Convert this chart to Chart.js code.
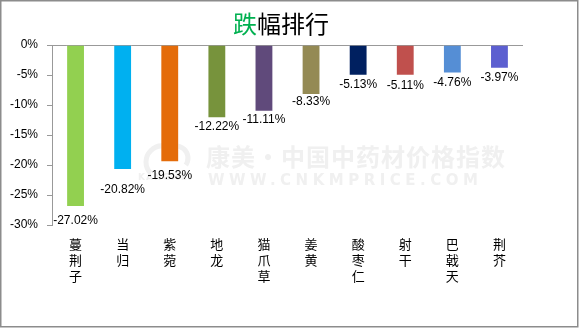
<!DOCTYPE html>
<html>
<head>
<meta charset="utf-8">
<script src="https://cdn.jsdelivr.net/npm/chart.js@4.4.1/dist/chart.umd.min.js"></script>
<style>
  body { margin: 0; background: #fff; }
  canvas { display: block; }
</style>
</head>
<body>
<canvas id="barChart" width="579" height="328"></canvas>
<script>
// 품종 / 跌幅(%)
var categories = ['蔓荆子', '当归', '紫菀', '地龙', '猫爪草', '姜黄', '酸枣仁', '射干', '巴戟天', '荆芥'];
var values = [-27.02, -20.82, -19.53, -12.22, -11.11, -8.33, -5.13, -5.11, -4.76, -3.97];
var valueLabels = ['-27.02%', '-20.82%', '-19.53%', '-12.22%', '-11.11%', '-8.33%', '-5.13%', '-5.11%', '-4.76%', '-3.97%'];
var barColors = ['#92d050', '#00b0f0', '#e46c0a', '#77933c', '#604a7b', '#948a54', '#002060', '#c0504d', '#558ed5', '#5c5fd0'];

// 제목, 워터마크, 테두리
var decoPlugin = {
    id: 'deco',
    beforeDraw: function (chart) {
        var ctx = chart.ctx;
        ctx.save();
        // watermark
        ctx.fillStyle = '#f0f0f0';
        ctx.strokeStyle = '#f0f0f0';
        ctx.textAlign = 'left';
        ctx.textBaseline = 'middle';
        ctx.font = 'bold 24px "Noto Sans CJK SC"';
        ctx.letterSpacing = '1px';
        ctx.fillText('康美·中国中药材价格指数', 206, 157);
        ctx.font = 'bold 15px "DejaVu Sans"';
        ctx.letterSpacing = '4.5px';
        ctx.fillText('WWW.CNKMPRICE.COM', 208, 181);
        ctx.letterSpacing = '1px';
        ctx.font = 'bold 9px "DejaVu Sans"';
        ctx.fillText('KANGMEI', 138, 178);
        ctx.letterSpacing = '0px';
        // logo
        ctx.lineWidth = 5;
        ctx.beginPath();
        ctx.arc(162, 162, 16, Math.PI * 0.75, Math.PI * 1.6);
        ctx.stroke();
        ctx.beginPath();
        ctx.arc(176, 158, 12, Math.PI * 1.1, Math.PI * 2.2);
        ctx.stroke();
        ctx.restore();
    },
    afterDraw: function (chart) {
        var ctx = chart.ctx;
        ctx.save();
        // title
        ctx.font = '24px "Noto Sans CJK SC"';
        ctx.textBaseline = 'middle';
        ctx.textAlign = 'left';
        var w1 = ctx.measureText('跌').width;
        var w2 = ctx.measureText('幅排行').width;
        var x0 = 281 - (w1 + w2) / 2;
        ctx.fillStyle = '#00b050';
        ctx.fillText('跌', x0, 24);
        ctx.fillStyle = '#000';
        ctx.fillText('幅排行', x0 + w1, 24);
        // border
        ctx.strokeStyle = '#8c8c8c';
        ctx.lineWidth = 1.5;
        ctx.strokeRect(0.75, 0.75, 577, 326);
        ctx.restore();
    }
};

// 막대 아래 값 표시
var valueLabelPlugin = {
    id: 'valueLabel',
    afterDatasetsDraw: function (chart, args, opts) {
        var ctx = chart.ctx;
        var meta = chart.getDatasetMeta(0);
        ctx.save();
        ctx.font = '12px "Liberation Sans"';
        ctx.fillStyle = '#000';
        ctx.textAlign = 'center';
        ctx.textBaseline = 'middle';
        meta.data.forEach(function (bar, i) {
            ctx.fillText(valueLabels[i], bar.x, bar.y + opts.offsets[i]);
        });
        ctx.restore();
    }
};

new Chart(document.getElementById('barChart'), {
    type: 'bar',
    data: {
        labels: categories.map(function (c) { return c.split(''); }),
        datasets: [{
            data: values,
            backgroundColor: barColors,
            borderColor: 'rgba(255,255,255,0.5)',
            borderWidth: 1,
            barPercentage: 0.4,
            categoryPercentage: 1.0
        }]
    },
    options: {
        responsive: false,
        animation: false,
        layout: { padding: { top: 45, right: 56, left: 0, bottom: 0 } },
        plugins: {
            legend: { display: false },
            tooltip: { enabled: false },
            valueLabel: { offsets: [14, 20, 14, 8, 8, 7, 9, 10, 9, 9] }
        },
        scales: {
            x: {
                grid: { display: false, drawTicks: false },
                border: { display: false },
                ticks: {
                    color: '#000',
                    padding: 11,
                    maxRotation: 0,
                    autoSkip: false,
                    font: { family: '"Noto Sans CJK SC"', size: 13, lineHeight: '16px' }
                },
                afterFit: function (scale) { scale.height = 103; }
            },
            y: {
                min: -30,
                max: 0,
                grid: {
                    color: function (c) { return c.tick && c.tick.value === 0 ? '#999999' : 'rgba(0,0,0,0)'; },
                    tickColor: '#999999',
                    tickLength: 5
                },
                border: { display: true, color: '#999999' },
                ticks: {
                    stepSize: 5,
                    color: '#000',
                    padding: 9,
                    font: { family: '"Liberation Sans"', size: 12 },
                    callback: function (v) { return v + '%'; }
                },
                afterFit: function (scale) { scale.width = 52; }
            }
        }
    },
    plugins: [decoPlugin, valueLabelPlugin]
});
</script>
</body>
</html>
